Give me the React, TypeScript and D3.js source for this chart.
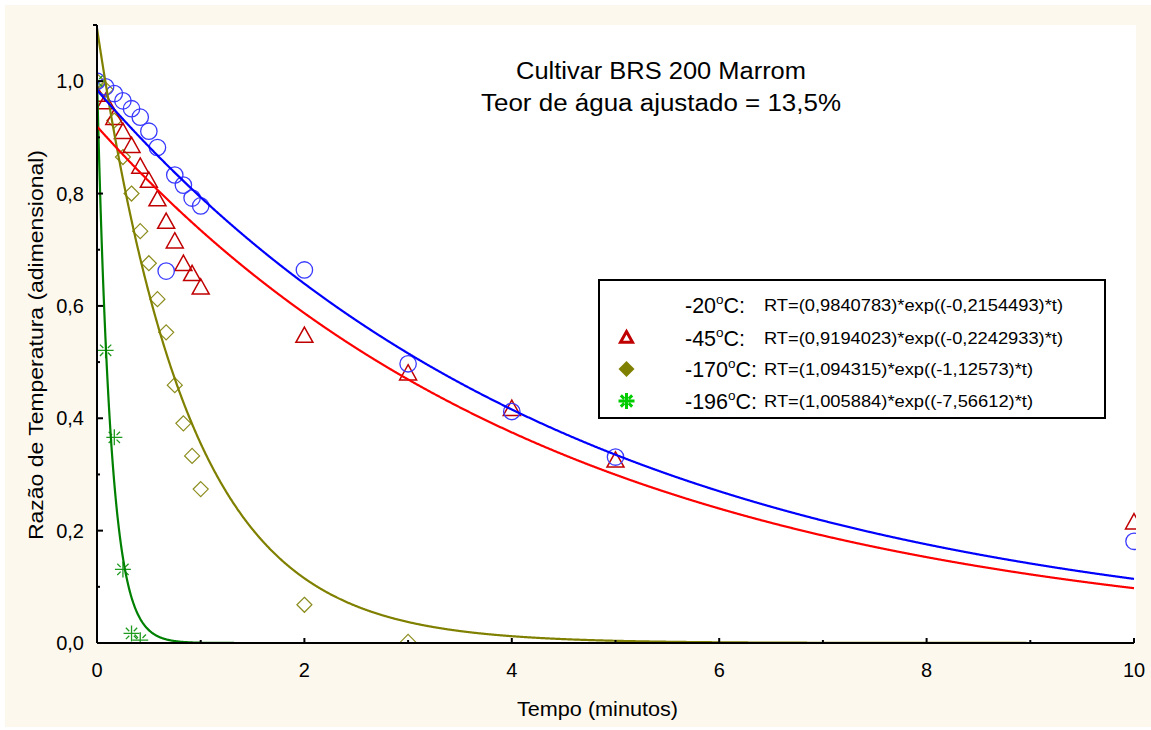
import React from "react";
import * as d3 from "d3";

const times = [0, 0.083, 0.167, 0.25, 0.333, 0.417, 0.5, 0.583, 0.667, 0.75, 0.833, 0.917, 1, 2, 3, 4, 5, 10];
const blueVals = [1.0, 0.99, 0.978, 0.965, 0.951, 0.936, 0.911, 0.882, 0.662, 0.833, 0.815, 0.792, 0.778, 0.664, 0.497, 0.412, 0.331, 0.181];
const redVals = [0.975, 0.962, 0.934, 0.909, 0.884, 0.847, 0.822, 0.789, 0.749, 0.714, 0.674, 0.656, 0.632, 0.546, 0.479, 0.416, 0.324, 0.214];
const oliveTimes = [0, 0.083, 0.167, 0.25, 0.333, 0.417, 0.5, 0.583, 0.667, 0.75, 0.833, 0.917, 1, 2, 3];
const oliveVals = [1.0, 0.985, 0.93, 0.865, 0.8, 0.733, 0.676, 0.612, 0.553, 0.459, 0.391, 0.333, 0.274, 0.068, 0.002];
const greenTimes = [0, 0.083, 0.167, 0.25, 0.333, 0.417];
const greenVals = [1.0, 0.521, 0.366, 0.131, 0.017, 0.005];

const seriesLabels = ["-20", "-45", "-170", "-196"];
const fitA = [0.9840783, 0.9194023, 1.094315, 1.005884];
const fitK = [-0.2154493, -0.2242933, -1.12573, -7.56612];
const equations = [
  "RT=(0,9840783)*exp((-0,2154493)*t)",
  "RT=(0,9194023)*exp((-0,2242933)*t)",
  "RT=(1,094315)*exp((-1,12573)*t)",
  "RT=(1,005884)*exp((-7,56612)*t)",
];
const lineColors = ["#0000ff", "#ff0000", "#808000", "#008000"];

const xTicks = [0, 2, 4, 6, 8, 10];
const xMinor = [1, 3, 5, 7, 9];
const yTicks = [0, 0.2, 0.4, 0.6, 0.8, 1.0];
const yMinor = [0.1, 0.3, 0.5, 0.7, 0.9];

const FONT = "'Liberation Sans', Arial, sans-serif";

export default function App() {
  const W = 1151, H = 730;
  const left = 97, right = 1134, top = 25, bottom = 643;
  const x = d3.scaleLinear().domain([0, 10]).range([left, right]);
  const y = d3.scaleLinear().domain([0, 1.1]).range([bottom, top]);
  const fmt = (v: number) => v.toFixed(1).replace(".", ",");

  const curve = (i: number) => {
    const ts = d3.range(0, 10.0001, 0.005);
    return d3
      .line<number>()
      .x((t) => x(t))
      .y((t) => y(fitA[i] * Math.exp(fitK[i] * t)))(ts) || "";
  };

  const triPath = (cx: number, cy: number, s: number) => {
    const h = s * 0.9;
    return `M${cx},${cy - h * 0.6}L${cx + s / 2},${cy + h * 0.4}L${cx - s / 2},${cy + h * 0.4}Z`;
  };
  const diaPath = (cx: number, cy: number, r: number) =>
    `M${cx},${cy - r}L${cx + r},${cy}L${cx},${cy + r}L${cx - r},${cy}Z`;
  const starPath = (cx: number, cy: number, r: number) => {
    const d = r * 0.707, d0 = 3.2 * 0.707;
    return `M${cx - r},${cy}H${cx + r}M${cx},${cy - r}V${cy + r}` +
      `M${cx - d},${cy - d}L${cx - d0},${cy - d0}M${cx + d},${cy - d}L${cx + d0},${cy - d0}` +
      `M${cx - d},${cy + d}L${cx - d0},${cy + d0}M${cx + d},${cy + d}L${cx + d0},${cy + d0}`;
  };

  const legendRows = [305, 338, 369, 401];
  const eqLen = [299, 299, 269, 269];

  return (
    <svg width={W} height={H} style={{ position: "absolute", left: 0, top: 0 }} fontFamily={FONT}>
      <rect x={0} y={0} width={W} height={H} fill="#ffffff" />
      <rect x={5} y={5} width={W - 5} height={722} fill="#fdf8ee" />
      <rect x={left} y={top} width={1136 - left} height={bottom - top} fill="#ffffff" />

      <defs>
        <clipPath id="plotclip">
          <rect x={left} y={top} width={1136 - left} height={bottom - top} />
        </clipPath>
      </defs>

      {/* title */}
      <text x={516} y={79} fontSize={23} fill="#000" textLength={290} lengthAdjust="spacingAndGlyphs">Cultivar BRS 200 Marrom</text>
      <text x={481} y={111} fontSize={23} fill="#000" textLength={360} lengthAdjust="spacingAndGlyphs">Teor de água ajustado = 13,5%</text>

      {/* markers */}
      <g clipPath="url(#plotclip)">
        {oliveTimes.map((t, i) => (
          <path key={"d" + i} d={diaPath(x(t), y(oliveVals[i]), 7.5)} fill="none" stroke="#8c8c1e" strokeWidth={1.2} />
        ))}
        {greenTimes.map((t, i) => (
          <path key={"s" + i} d={starPath(x(t), y(greenVals[i]), 8)} fill="none" stroke="#1e9a1e" strokeWidth={1.3} />
        ))}
        {times.map((t, i) => (
          <path key={"t" + i} d={triPath(x(t), y(redVals[i]), 17)} fill="none" stroke="#c00000" strokeWidth={1.5} />
        ))}
        {times.map((t, i) => (
          <circle key={"c" + i} cx={x(t)} cy={y(blueVals[i])} r={8.2} fill="none" stroke="#3a3aff" strokeWidth={1.3} />
        ))}
        {[3, 2, 1, 0].map((i) => (
          <path key={"l" + i} d={curve(i)} fill="none" stroke={lineColors[i]} strokeWidth={2.2} />
        ))}
      </g>

      {/* axes */}
      <line x1={left} y1={top} x2={left} y2={bottom} stroke="#000" strokeWidth={2} />
      <line x1={left} y1={bottom} x2={right} y2={bottom} stroke="#000" strokeWidth={2} />
      <line x1={left - 4} y1={top} x2={left} y2={top} stroke="#000" strokeWidth={2} />
      {yTicks.map((v) => (
        <g key={"yt" + v}>
          <line x1={left} x2={left + 6} y1={y(v)} y2={y(v)} stroke="#000" strokeWidth={2} />
          <text x={84} y={y(v) + 7} textAnchor="end" fontSize={20}>{fmt(v)}</text>
        </g>
      ))}
      {yMinor.map((v) => (
        <line key={"ym" + v} x1={left} x2={left + 3} y1={y(v)} y2={y(v)} stroke="#000" strokeWidth={2} />
      ))}
      {xTicks.map((v) => (
        <g key={"xt" + v}>
          <line x1={x(v)} x2={x(v)} y1={bottom} y2={bottom - 5} stroke="#000" strokeWidth={2} />
          <text x={x(v)} y={677} textAnchor="middle" fontSize={20}>{v}</text>
        </g>
      ))}
      {xMinor.map((v) => (
        <line key={"xm" + v} x1={x(v)} x2={x(v)} y1={bottom} y2={bottom - 3} stroke="#000" strokeWidth={2} />
      ))}

      <text x={517} y={716} fontSize={20} textLength={161} lengthAdjust="spacingAndGlyphs">Tempo (minutos)</text>
      <text transform={`translate(43,540) rotate(-90)`} fontSize={20} textLength={390} lengthAdjust="spacingAndGlyphs">Razão de Temperatura (adimensional)</text>

      {/* legend */}
      <rect x={599} y={280} width={506} height={138} fill="#ffffff" stroke="#000" strokeWidth={2} />
      {seriesLabels.map((lab, i) => (
        <g key={"lg" + i}>
          <text x={685} y={legendRows[i] + 7.5} fontSize={21.5}>
            {lab}
            <tspan fontSize={13.5} dy={-9}>o</tspan>
            <tspan dy={9}>C:</tspan>
          </text>
          <text x={764} y={legendRows[i] + 6} fontSize={16.5} textLength={eqLen[i]} lengthAdjust="spacingAndGlyphs">{equations[i]}</text>
        </g>
      ))}
      <path d={triPath(626.5, legendRows[1], 12)} fill="none" stroke="#c00000" strokeWidth={3} />
      <path d={diaPath(626.5, legendRows[2], 8)} fill="#808000" stroke="none" />
      <path d={starPath(626.5, legendRows[3], 8)} fill="none" stroke="#00cc00" strokeWidth={3} />
    </svg>
  );
}
